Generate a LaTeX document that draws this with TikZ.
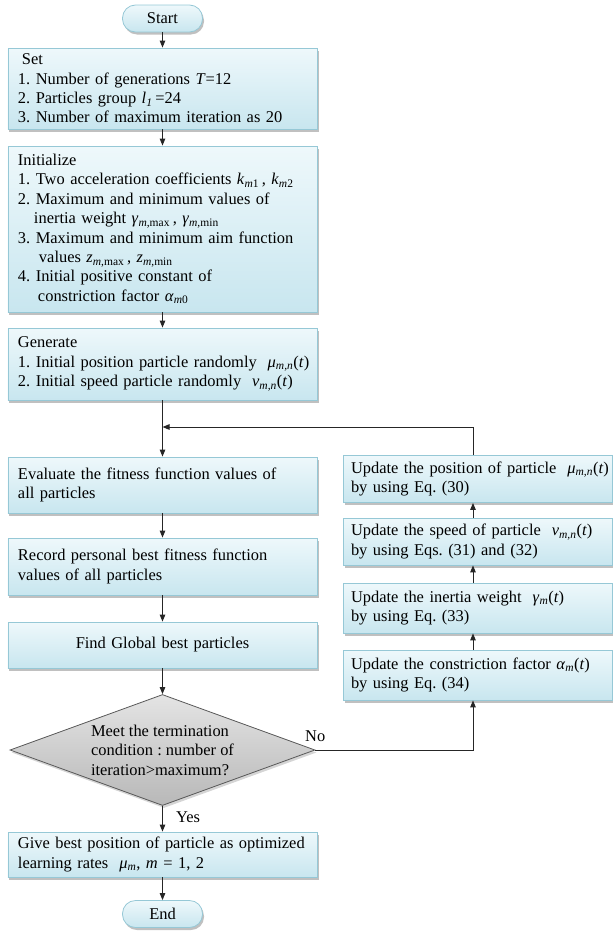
\documentclass[tikz,border=0pt]{standalone}
\usepackage{fontspec}
\setmainfont{Liberation Serif}
\usetikzlibrary{arrows.meta,shapes.geometric,shadows}
\frenchspacing

\definecolor{boxtop}{RGB}{238,248,251}
\definecolor{boxbot}{RGB}{200,230,239}
\definecolor{boxline}{RGB}{150,200,214}
\definecolor{dtop}{RGB}{228,228,228}
\definecolor{dbot}{RGB}{184,184,184}

% italic subscript and an unbreakable line
\newcommand{\ix}[1]{\textsubscript{\textit{#1}}}
\newcommand{\li}[1]{\mbox{#1}}

\tikzset{
  base/.style={draw=boxline, line width=0.8bp, top color=boxtop, bottom color=boxbot,
    drop shadow={shadow xshift=1.5bp, shadow yshift=-2.5bp, fill=black!55, opacity=0.45},
    font=\fontsize{16.5}{19.5}\selectfont},
  procbox/.style={base, rectangle, inner xsep=10bp, inner ysep=0bp, text width=289bp,
    minimum height=#1, align=left},
  sidebox/.style={base, rectangle, inner xsep=8bp, inner ysep=0bp, text width=253bp,
    minimum height=#1, align=left},
  term/.style={base, rectangle, rounded corners=13bp, minimum width=80bp,
    minimum height=27bp, inner sep=0bp},
  decision/.style={diamond, draw=black!65, line width=0.8bp, top color=dtop, bottom color=dbot,
    drop shadow={shadow xshift=1.5bp, shadow yshift=-2.5bp, fill=black!55, opacity=0.3},
    aspect=2.75, inner sep=0bp, minimum width=305bp, minimum height=111bp, align=left,
    font=\fontsize{16.5}{19.5}\selectfont},
  lab/.style={font=\fontsize{16.5}{19.5}\selectfont, inner sep=0bp},
  flow/.style={draw=black!85, line width=1bp, -{Triangle[length=7bp,width=5.5bp]}},
}

\begin{document}
\begin{tikzpicture}[x=1bp, y=1bp]
\useasboundingbox (0,0) rectangle (613,-932);

% main column
\node[term] (start) at (162.5,-18.5) {Start};

\node[procbox=81bp] (set) at (162.5,-88.5) {\hspace*{4bp}Set\\
  \li{1. Number of generations \textit{T}=12}\\
  \li{2. Particles group \textit{l}\ix{1}\,=24}\\
  \li{3. Number of maximum iteration as 20}};

\node[procbox=166bp] (init) at (162.5,-229) {Initialize\\
  \li{1. Two acceleration coefficients \textit{k}\textsubscript{\textit{m}1}\,, \textit{k}\textsubscript{\textit{m}2}}\\
  \li{2. Maximum and minimum values of}\\
  \li{\hspace*{16bp}inertia weight \textit{γ}\textsubscript{\textit{m},max}\,, \textit{γ}\textsubscript{\textit{m},min}}\\
  \li{3. Maximum and minimum aim function}\\
  \li{\hspace*{21bp}values \textit{z}\textsubscript{\textit{m},max}\,, \textit{z}\textsubscript{\textit{m},min}}\\
  \li{4. Initial positive constant of}\\
  \li{\hspace*{20bp}constriction factor \textit{α}\textsubscript{\textit{m}0}}};

\node[procbox=72bp] (gen) at (162.5,-364) {Generate\\
  \li{1. Initial position particle randomly \ \textit{μ}\ix{m,n}(\textit{t})}\\
  \li{2. Initial speed particle randomly \ \textit{v}\ix{m,n}(\textit{t})}};

\node[procbox=56bp] (eval) at (162.5,-485) {\li{Evaluate the fitness function values of}\\all particles};

\node[procbox=57bp] (rec) at (162.5,-566.5) {\li{Record personal best fitness function}\\values of all particles};

\node[procbox=46bp, align=center] (find) at (162.5,-645) {Find Global best particles};

\node[decision] (dec) at (162.5,-750) {Meet the termination\\condition : number of\\iteration>maximum?};

\node[procbox=45bp] (give) at (162.5,-854.5) {\li{Give best position of particle as optimized}\\
  learning rates \ \textit{μ}\ix{m}, \textit{m} = 1, 2};

\node[term] (stop) at (162.5,-914) {End};

% update column
\node[sidebox=47bp] (pos) at (477.5,-479) {\li{Update the position of particle \ \textit{μ}\ix{m,n}(\textit{t})}\\by using Eq. (30)};
\node[sidebox=47bp] (spd) at (477.5,-541.5) {\li{Update the speed of particle \ \textit{v}\ix{m,n}(\textit{t})}\\by using Eqs. (31) and (32)};
\node[sidebox=50bp] (ine) at (477.5,-608) {\li{Update the inertia weight \ \textit{γ}\ix{m}(\textit{t})}\\by using Eq. (33)};
\node[sidebox=50bp] (con) at (477.5,-675) {\li{Update the constriction factor \textit{α}\ix{m}(\textit{t})}\\by using Eq. (34)};

% branch labels
\node[lab, anchor=south west] (nolab) at (305,-742) {No};
\node[lab, anchor=south west] (yeslab) at (176,-823) {Yes};

% loop geometry
\coordinate (rx) at (473,0);
\coordinate (jn) at (162.5,-427);

% connectors
\draw[flow] (start.south) -- (set.north);
\draw[flow] (set.south) -- (init.north);
\draw[flow] (init.south) -- (gen.north);
\draw[flow] (gen.south) -- (eval.north);
\draw[flow] (eval.south) -- (rec.north);
\draw[flow] (rec.south) -- (find.north);
\draw[flow] (find.south) -- (dec.north);
\draw[flow] (dec.south) -- (give.north);
\draw[flow] (give.south) -- (stop.north);

\draw[flow] (dec.east) -| (rx |- con.south);
\draw[flow] (rx |- con.north) -- (rx |- ine.south);
\draw[flow] (rx |- ine.north) -- (rx |- spd.south);
\draw[flow] (rx |- spd.north) -- (rx |- pos.south);
\draw[flow] (rx |- pos.north) |- (jn);
\end{tikzpicture}
\end{document}
